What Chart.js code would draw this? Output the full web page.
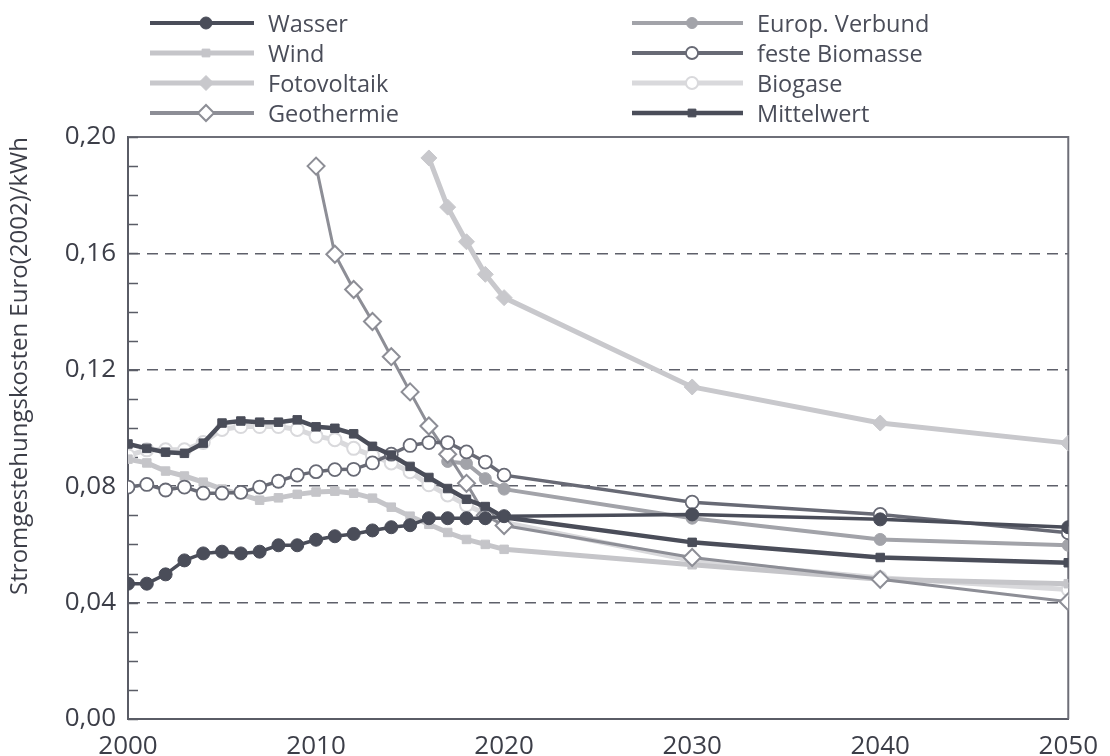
<!DOCTYPE html>
<html><head><meta charset="utf-8">
<script src="https://cdn.jsdelivr.net/npm/chart.js@4/dist/chart.umd.min.js"></script>
<style>
html,body{margin:0;padding:0;background:#fff;}
#wrap{position:relative;width:1110px;height:756px;background:#fff;}
#c{position:absolute;left:0;top:0;}
#legend{position:absolute;left:0;top:0;width:1110px;height:130px;font-family:'Open Sans',sans-serif;font-size:23.5px;color:#4a4d59;}
.item{position:absolute;height:30px;display:flex;align-items:center;white-space:nowrap;}
.item canvas{margin-right:14px;display:block;}
</style></head><body>
<div id="wrap"><canvas id="c" width="1110" height="756"></canvas><div id="legend"></div></div>
<script>
// ---- data ----
const years = [2000,2001,2002,2003,2004,2005,2006,2007,2008,2009,2010,2011,2012,2013,2014,2015,2016,2017,2018,2019,2020,2030,2040,2050];
const seriesNames = ['Wasser','Wind','Fotovoltaik','Geothermie','Europ. Verbund','feste Biomasse','Biogase','Mittelwert'];
const wasser = [0.0465,0.0465,0.0497,0.0545,0.0569,0.0575,0.0569,0.0575,0.0597,0.0597,0.0616,0.0628,0.0636,0.0648,0.0659,0.0666,0.0690,0.0690,0.0690,0.0690,0.0697,0.0703,0.0686,0.0659];
const wind = [0.0893,0.0880,0.0852,0.0835,0.0814,0.0790,0.0772,0.0752,0.0760,0.0772,0.0780,0.0783,0.0776,0.0759,0.0728,0.0697,0.0669,0.0641,0.0617,0.0600,0.0583,0.0530,0.0480,0.0465];
const fotovoltaik = [null,null,null,null,null,null,null,null,null,null,null,null,null,null,null,null,0.1928,0.1759,0.1640,0.1528,0.1448,0.1141,0.1017,0.0948];
const geothermie = [null,null,null,null,null,null,null,null,null,null,0.1900,0.1597,0.1476,0.1366,0.1245,0.1124,0.1007,0.0910,0.0810,0.0700,0.0665,0.0555,0.0480,0.0403];
const europVerbund = [null,null,null,null,null,null,null,null,null,null,null,null,null,null,null,null,null,0.0885,0.0878,0.0826,0.0790,0.0690,0.0617,0.0597];
const festeBiomasse = [0.0797,0.0806,0.0787,0.0797,0.0776,0.0776,0.0779,0.0797,0.0817,0.0838,0.0850,0.0857,0.0858,0.0880,0.0910,0.0940,0.0950,0.0950,0.0918,0.0883,0.0838,0.0745,0.0703,0.0640];
const biogase = [0.0905,0.0925,0.0925,0.0925,0.0950,0.0995,0.1005,0.1005,0.1005,0.0995,0.0972,0.0960,0.0930,0.0905,0.0880,0.0850,0.0805,0.0770,0.0735,0.0705,0.0675,0.0545,0.0485,0.0445];
const mittelwert = [0.0945,0.0930,0.0917,0.0913,0.0948,0.1017,0.1024,0.1020,0.1020,0.1028,0.1004,0.0999,0.0980,0.0937,0.0907,0.0868,0.0830,0.0792,0.0755,0.0730,0.0693,0.0607,0.0555,0.0537];
const xTicks = [2000,2010,2020,2030,2040,2050];
const yLabelStep = 0.04;

// ---- styles ----
const styles = [
  {color:'#4a4d59', lw:3.5, ps:'circle',  r:6.5, fill:null, bw:1, order:2},
  {color:'#c5c5c9', lw:5,   ps:'rect',    r:6,   fill:null, bw:1, order:7},
  {color:'#c8c8cc', lw:5,   ps:'rectRot', r:8,   fill:null, bw:1, order:6},
  {color:'#8d8e96', lw:3,   ps:'rectRot', r:8.5, fill:'#ffffff', bw:2, order:4},
  {color:'#a2a3a9', lw:4,   ps:'circle',  r:6,   fill:null, bw:1, order:5},
  {color:'#686a75', lw:3.5, ps:'circle',  r:6.5, fill:'#ffffff', bw:1.8, order:3},
  {color:'#d9d9dc', lw:5,   ps:'circle',  r:6.5, fill:'#ffffff', bw:2, order:8},
  {color:'#4a4d59', lw:4.5, ps:'rect',    r:6,   fill:null, bw:1, order:1}
];
const values = [wasser,wind,fotovoltaik,geothermie,europVerbund,festeBiomasse,biogase,mittelwert];

const datasets = seriesNames.map((name,i)=>{
  const s = styles[i];
  return {
    label:name,
    data: years.map((x,j)=>({x:x,y:values[i][j]})).filter(p=>p.y!==null),
    borderColor:s.color, backgroundColor:s.fill||s.color,
    borderWidth:s.lw, tension:0,
    pointStyle:s.ps, pointRadius:s.r, pointBorderWidth:s.bw,
    pointBackgroundColor:s.fill||s.color, pointBorderColor:s.color,
    order:s.order
  };
});

const frame = {
  id:'frame',
  beforeDatasetsDraw(chart){
    const {ctx, chartArea:a, scales} = chart;
    const y = scales.y;
    ctx.save();
    ctx.strokeStyle='#6e6f78'; ctx.lineWidth=2;
    ctx.beginPath();
    ctx.moveTo(a.left,a.top); ctx.lineTo(a.right,a.top); ctx.lineTo(a.right,a.bottom);
    ctx.stroke();
    ctx.strokeStyle='#5a5c66'; ctx.lineWidth=1.5;
    ctx.beginPath();
    y.ticks.forEach(t=>{const py=Math.round(y.getPixelForValue(t.value))+0.5; ctx.moveTo(a.left,py); ctx.lineTo(a.left+10,py);});
    ctx.stroke();
    ctx.restore();
  }
};

const isLabel = v => { const k=Math.round(v*100); return k % Math.round(yLabelStep*100) === 0; };

const chart = new Chart(document.getElementById('c'),{
  type:'line',
  data:{datasets},
  options:{
    responsive:false, animation:false,
    layout:{padding:{top:137,right:35,left:0,bottom:0}},
    plugins:{legend:{display:false},tooltip:{enabled:false}},
    scales:{
      x:{type:'linear',min:2000,max:2050,
        afterBuildTicks:s=>{s.ticks=xTicks.map(v=>({value:v}));},
        afterFit:s=>{s.height=37;},
        grid:{display:false,drawTicks:false},
        border:{display:true,color:'#5a5c66',width:2},
        ticks:{padding:12,color:'#3c3e48',font:{family:'Open Sans',size:26},callback:v=>String(v),maxRotation:0,autoSkip:false}
      },
      y:{min:0,max:0.2,
        afterFit:s=>{s.width=128;},
        ticks:{stepSize:0.01,autoSkip:false,padding:12,color:'#3c3e48',font:{family:'Open Sans',size:26},
          callback:v=> isLabel(v) ? v.toFixed(2).replace('.',',') : ''},
        grid:{drawTicks:false,lineWidth:1.5,
          color:c=>{const v=c.tick?c.tick.value:0; return (isLabel(v)&&v>0.001&&v<0.199)?'#5e606a':'rgba(0,0,0,0)';}},
        border:{display:true,color:'#5a5c66',width:2,dash:[11,7]},
        title:{display:true,text:'Stromgestehungskosten Euro(2002)/kWh',align:'end',color:'#3c3e48',
          font:{family:'Open Sans',size:24},padding:{top:6,bottom:2}}
      }
    }
  },
  plugins:[frame]
});

// ---- HTML legend built from the chart's datasets ----
const legend = document.getElementById('legend');
const colX = [[150,268],[632,757]];
const rowY = [23,53,83,113];
chart.data.datasets.forEach((ds,i)=>{
  const col = Math.floor(i/4), row = i%4;
  const item = document.createElement('div');
  item.className='item';
  item.style.left = colX[col][0]+'px';
  item.style.top = (rowY[row]-15)+'px';
  const cv = document.createElement('canvas');
  const w = colX[col][1]-colX[col][0]-14;
  cv.width = w; cv.height = 24;
  const g = cv.getContext('2d');
  g.strokeStyle = ds.borderColor; g.lineWidth = Math.max(ds.borderWidth,4);
  g.beginPath(); g.moveTo(0,12); g.lineTo(w,12); g.stroke();
  g.fillStyle = ds.pointBackgroundColor; g.strokeStyle = ds.pointBorderColor; g.lineWidth = ds.pointBorderWidth;
  const opts = {pointStyle:ds.pointStyle, radius:ds.pointRadius-0.5, rotation:0, borderWidth:ds.pointBorderWidth};
  if (Chart.helpers && Chart.helpers.drawPoint) {
    Chart.helpers.drawPoint(g, opts, Math.round(w*0.54), 12);
  }
  item.appendChild(cv);
  const sp = document.createElement('span');
  sp.textContent = ds.label;
  item.appendChild(sp);
  legend.appendChild(item);
});
</script>
</body></html>
